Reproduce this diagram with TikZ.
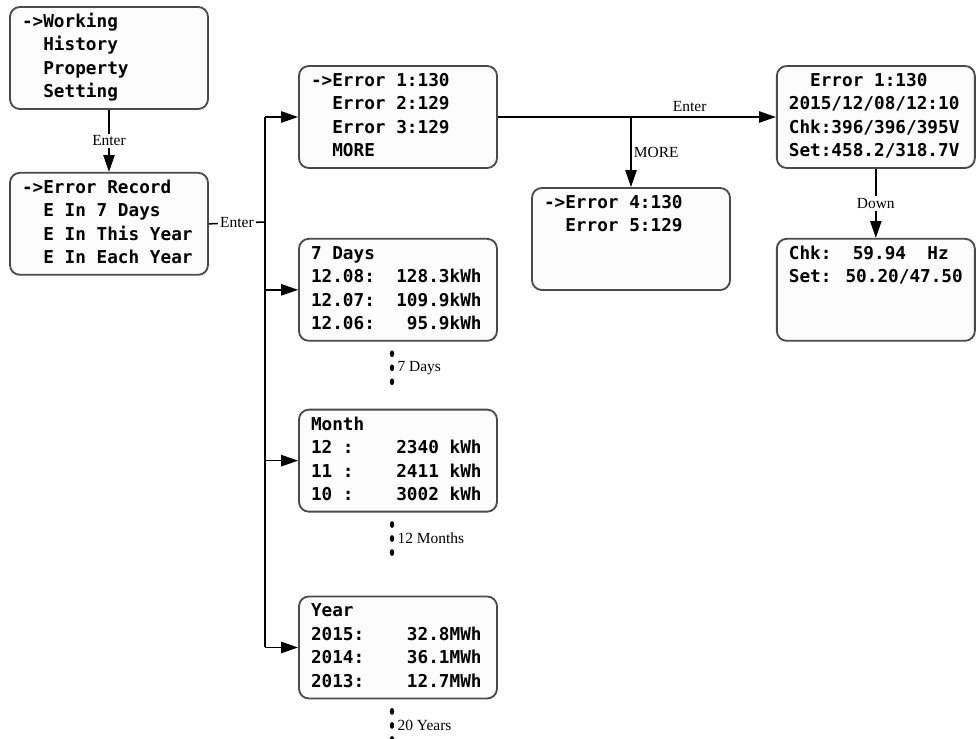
\documentclass[tikz,border=0pt]{standalone}
\usepackage{fontspec}
\usetikzlibrary{arrows.meta, positioning}

\newfontfamily\lcdfont{DejaVu Sans Mono}
\newfontfamily\notefont{Liberation Serif}
\definecolor{framegray}{HTML}{4A4A4A}
\definecolor{screenfill}{HTML}{FCFCFC}

% blank columns on the display, and the display text area
\newcommand{\pad}[1]{\hphantom{#1}}
\newcommand{\lcd}[1]{\parbox[c][2.35cm][t]{4.35cm}{\raggedright\strut\ignorespaces#1}}

\begin{document}
\begin{tikzpicture}[
    screen/.style={
        rectangle, draw=framegray, fill=screenfill,
        rounded corners=7pt, line width=1.3pt,
        inner xsep=0.3cm, inner ysep=0.1cm,
        font=\lcdfont\bfseries\fontsize{12.6}{16.7}\selectfont
    },
    line/.style={line width=1.1pt},
    arrow/.style={line, -{Triangle[length=12pt, width=8pt]}},
    note/.style={font=\notefont\fontsize{11}{13}\selectfont, inner sep=1.5pt},
    cut/.style={note, fill=white}
]
\useasboundingbox (0,0) rectangle (24.475,-18.475);

%% ─── MENUS ──────────────────────────────────────────────────
\node[screen] (menu) at (2.725,-1.45) {\lcd{
    ->Working\\
    \pad{00}History\\
    \pad{00}Property\\
    \pad{00}Setting}};

\node[screen, below=1.55cm of menu] (record) {\lcd{
    ->Error Record\\
    \pad{00}E In 7 Days\\
    \pad{00}E In This Year\\
    \pad{00}E In Each Year}};

%% ─── RECORD SCREENS ─────────────────────────────────────────
\node[screen] (errs) at (9.95,-2.925) {\lcd{
    ->Error 1:130\\
    \pad{00}Error 2:129\\
    \pad{00}Error 3:129\\
    \pad{00}MORE}};

\node[screen, below=1.725cm of errs] (days) {\lcd{
    7 Days\\
    12.08:\ \ 128.3kWh\\
    12.07:\ \ 109.9kWh\\
    12.06:\ \ \ 95.9kWh}};

\node[screen, below=1.675cm of days] (month) {\lcd{
    Month\\
    12 :\ \ \ \ 2340 kWh\\
    11 :\ \ \ \ 2411 kWh\\
    10 :\ \ \ \ 3002 kWh}};

\node[screen, below=2.075cm of month] (year) {\lcd{
    Year\\
    2015:\ \ \ \ 32.8MWh\\
    2014:\ \ \ \ 36.1MWh\\
    2013:\ \ \ \ 12.7MWh}};

\node[screen] (more) at (15.775,-5.975) {\lcd{
    ->Error 4:130\\
    \pad{00}Error 5:129}};

%% ─── ERROR DETAIL ───────────────────────────────────────────
\node[screen, right=6.95cm of errs] (detail) {\lcd{
    \pad{00}Error 1:130\\
    2015/12/08/12:10\\
    Chk:396/396/395V\\
    Set:458.2/318.7V}};

\node[screen, below=1.725cm of detail] (freq) {\lcd{
    Chk:\ \ 59.94\ \ Hz\\
    Set: 50.20/47.50}};

%% ─── ARROWS ─────────────────────────────────────────────────
\draw[arrow] (menu) -- node[cut]{Enter} (record);

\coordinate (split) at (6.625,-5.55);
\draw[line] (record.east) -- node[cut]{Enter} (split);
\draw[line] (errs.west -| split) -- (year.west -| split);
\foreach \scr in {errs, days, month, year}
    \draw[arrow] (\scr.west -| split) -- (\scr.west);

\draw[arrow] (errs) -- node[note, above, pos=0.69, yshift=2pt]{Enter} (detail);
\draw[arrow] (errs.east -| more.north) -- node[note, right]{MORE} (more.north);
\draw[arrow] (detail) -- node[cut]{Down} (freq);

%% ─── MORE RECORDS ───────────────────────────────────────────
\foreach \scr/\txt in {days/7 Days, month/12 Months, year/20 Years} {
    \coordinate (\scr-dots) at ([xshift=-0.15cm, yshift=-0.65cm]\scr.south);
    \foreach \d in {-0.35, 0, 0.35}
        \fill ([yshift=\d cm]\scr-dots) ellipse (0.055 and 0.085);
    \node[note, right=0.08cm of \scr-dots] (\scr-note) {\txt};
}

\end{tikzpicture}
\end{document}
